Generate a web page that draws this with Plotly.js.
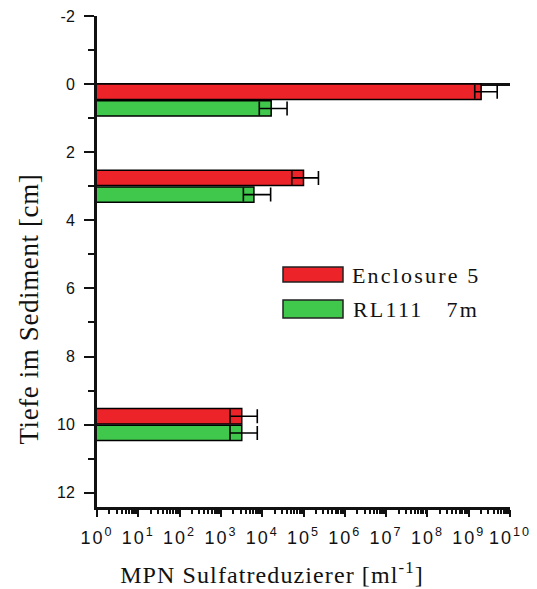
<!DOCTYPE html>
<html>
<head>
<meta charset="utf-8">
<script src="https://cdn.plot.ly/plotly-3.0.1.min.js"></script>
<style>
html,body{margin:0;padding:0;background:#fff;}
#chart .xtick text{letter-spacing:2px;}
#chart g.annotation[data-index="0"] text,
#chart g.annotation[data-index="1"] text{letter-spacing:2.2px;}
#chart g.annotation[data-index="2"] text{letter-spacing:1.1px;}
#chart g.annotation[data-index="3"] text{letter-spacing:0.6px;}
</style>
</head>
<body>
<div id="chart" style="width:537px;height:589px;"></div>
<script>
// ---- data ----
const depths = [0.47, 3, 10];                       // Tiefe im Sediment [cm]
const seriesNames = ['Enclosure 5', 'RL111\u00a0\u00a0\u00a07m'];
const enclosureMPN   = [2.0e9, 1.0e5, 3.2e3];
const enclosureUpper = [4.9e9, 2.3e5, 7.6e3];
const enclosureLower = [1.4e9, 5.2e4, 1.66e3];
const rl111MPN   = [1.65e4, 6.3e3, 3.2e3];
const rl111Upper = [4.0e4, 1.6e4, 7.6e3];
const rl111Lower = [8.5e3, 3.5e3, 1.66e3];
const xTickExp = [0,1,2,3,4,5,6,7,8,9,10];
const yTickVals = [-2,0,2,4,6,8,10,12];
const yTickText = ['-2','0','2','4','6','8','10','12'];
const xTitle = 'MPN Sulfatreduzierer [ml<sup>-1</sup>]';
const yTitle = 'Tiefe im Sediment [cm]';

const RED = '#ec2329', GREEN = '#40c84c';

function errx(v, up, lo) {
  return {type:'data', symmetric:false,
    array: up.map((u,i)=>u - v[i]), arrayminus: lo.map((l,i)=>v[i] - l),
    color:'#000', thickness:1.6, width:7};
}
const traces = [
  {type:'bar', orientation:'h', name: seriesNames[0], y: depths, x: enclosureMPN,
   width:0.45, offset:-0.47, marker:{color:RED, line:{color:'#000', width:1.5}},
   error_x: errx(enclosureMPN, enclosureUpper, enclosureLower), hoverinfo:'x+y'},
  {type:'bar', orientation:'h', name: seriesNames[1], y: depths, x: rl111MPN,
   width:0.45, offset:0.02, marker:{color:GREEN, line:{color:'#000', width:1.5}},
   error_x: errx(rl111MPN, rl111Upper, rl111Lower), hoverinfo:'x+y'}
];

const xMinor = [];
for (let e = 0; e < 10; e++) for (let m = 2; m <= 9; m++) xMinor.push(m * Math.pow(10, e));

const plotL = 97, plotR = 510, plotT = 16, plotB = 507;
const W = plotR - plotL, H = plotB - plotT;
const px = x => (x - plotL) / W, py = y => (plotB - y) / H;
const SERIF = 'Liberation Serif';
const SANS = 'Liberation Sans, Arial, sans-serif';

const layout = {
  width:537, height:589,
  margin:{l:plotL, r:537-plotR, t:plotT, b:589-plotB, pad:0},
  paper_bgcolor:'#fff', plot_bgcolor:'#fff',
  showlegend:false, barmode:'overlay',
  font:{family:SANS, color:'#111'},
  xaxis:{type:'log', range:[0,10], showgrid:false, zeroline:false,
    showline:true, linecolor:'#111', linewidth:3, mirror:false,
    ticks:'outside', ticklen:7, tickwidth:2, tickcolor:'#111',
    tickmode:'array', tickvals: xTickExp.map(e=>Math.pow(10,e)),
    ticktext: xTickExp.map(e=>'10<sup>' + e + '</sup>'),
    tickfont:{size:18, family:SANS, color:'#111'},
    ticklabelstandoff:5,
    minor:{tickmode:'array', tickvals:xMinor, ticks:'outside', ticklen:4, tickwidth:2, tickcolor:'#111', showgrid:false}},
  yaxis:{range:[12.42,-2], showgrid:false, zeroline:true, zerolinecolor:'#111', zerolinewidth:3,
    showline:true, linecolor:'#111', linewidth:3, mirror:false,
    ticks:'outside', ticklen:10, tickwidth:2, tickcolor:'#111',
    tickmode:'array', tickvals:yTickVals, ticktext:yTickText,
    tickfont:{size:16, family:SANS, color:'#111'},
    ticklabelstandoff:6,
    minor:{tickmode:'array', tickvals:[-1,1,3,5,7,9,11], ticks:'outside', ticklen:6, tickwidth:2, tickcolor:'#111', showgrid:false}},
  shapes:[
    {type:'rect', xref:'paper', yref:'paper', x0:px(283), x1:px(343), y0:py(282), y1:py(267),
     fillcolor:RED, line:{color:'#222', width:1.5}},
    {type:'rect', xref:'paper', yref:'paper', x0:px(283), x1:px(343), y0:py(318), y1:py(300),
     fillcolor:GREEN, line:{color:'#222', width:1.5}}
  ],
  annotations:[
    {xref:'paper', yref:'paper', x:px(362), y:py(275), xanchor:'left', yanchor:'middle', showarrow:false,
     text: seriesNames[0], font:{family:SERIF, size:22, color:'#111'}},
    {xref:'paper', yref:'paper', x:px(362), y:py(309), xanchor:'left', yanchor:'middle', showarrow:false,
     text: seriesNames[1], font:{family:SERIF, size:22, color:'#111'}},
    {xref:'paper', yref:'paper', x:px(272), y:py(573), xanchor:'center', yanchor:'middle', showarrow:false,
     text: xTitle, font:{family:SERIF, size:24, color:'#111'}},
    {xref:'paper', yref:'paper', x:px(29), y:py(309), xanchor:'center', yanchor:'middle', showarrow:false,
     textangle:-90, text: yTitle, font:{family:SERIF, size:27, color:'#111'}}
  ]
};

Plotly.newPlot('chart', traces, layout, {staticPlot:true, displayModeBar:false});
</script>
</body>
</html>
